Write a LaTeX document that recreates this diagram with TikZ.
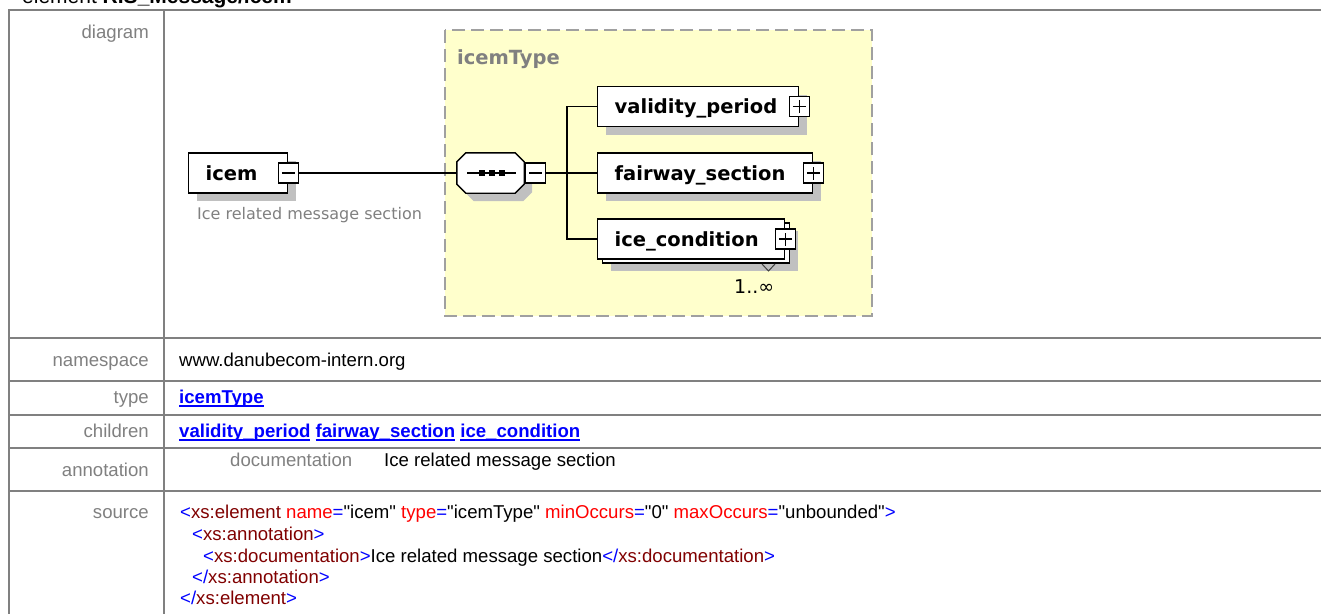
\documentclass[tikz,border=0pt]{standalone}
\usepackage{fontspec}
\setmainfont{Liberation Sans}
\newfontfamily\xsdfont{DejaVu Sans}
\usepackage{tikz}
\definecolor{lgray}{RGB}{128,128,128}
\definecolor{sgray}{RGB}{192,192,192}
\definecolor{yback}{RGB}{255,255,204}
\definecolor{dgray}{RGB}{160,160,160}
\definecolor{xblue}{RGB}{0,0,255}
\definecolor{xname}{RGB}{128,0,0}
\definecolor{xattr}{RGB}{255,0,0}
% underlined link text
\newcommand{\ulink}[1]{\setbox0\hbox{\textcolor{xblue}{\textbf{#1}}}\rlap{\textcolor{xblue}{\rule[-3.5pt]{\wd0}{1.5pt}}}\box0\relax}
% xml source pieces
\newcommand{\xo}[1]{\textcolor{xblue}{<}\textcolor{xname}{#1}}
\newcommand{\xc}[1]{\textcolor{xblue}{</}\textcolor{xname}{#1}}
\newcommand{\xe}{\textcolor{xblue}{>}}
\newcommand{\xa}[2]{\textcolor{xattr}{#1}\textcolor{xblue}{=}\textquotedbl#2\textquotedbl}

\begin{document}
\begin{tikzpicture}[x=1pt,y=-1pt,every node/.style={inner sep=0pt},
  cell/.style={font=\fontsize{18.6}{21.5}\selectfont},
  lbl/.style={cell,text=lgray,anchor=base east},
  val/.style={cell,anchor=base west},
  grid/.style={draw=lgray,line width=2pt},
  shade/.style={preaction={fill=sgray,transform canvas={shift={(8pt,-8pt)}}}},
  box/.style={draw,fill=white,line width=1.4pt,minimum height=40pt,inner xsep=17pt,align=left,
    text height=15pt,text depth=1pt,anchor=west,font=\xsdfont\bfseries\fontsize{19.5}{22}\selectfont},
  elem/.style={box,shade},
  pm/.style={draw,fill=white,line width=1.2pt,minimum size=20pt},
  minus/.style={pm,path picture={\draw[line width=1.2pt] ([xshift=-6.5pt]path picture bounding box.center) -- ([xshift=6.5pt]path picture bounding box.center);}},
  plus/.style={pm,path picture={\draw[line width=1.2pt] ([xshift=-6.5pt]path picture bounding box.center) -- ([xshift=6.5pt]path picture bounding box.center)
      ([yshift=-6.5pt]path picture bounding box.center) -- ([yshift=6.5pt]path picture bounding box.center);}},
  wire/.style={line width=1.3pt}]
  \useasboundingbox (0,0) rectangle (1321,613);
  \clip (0,0) rectangle (1321,613);

  % table
  \draw[grid] (1330,10) -- (9,10) -- (9,620);
  \draw[grid] (164,10) -- (164,620);
  \foreach \y in {338,381,415,448,491}
    \draw[grid] (9,\y) -- (1330,\y);

  \node[anchor=base west,font=\fontsize{21}{24}\selectfont] (title) at (22,3.5) {element \textbf{RIS\_Message/icem}};

  \node[lbl] (ldiag) at (149,38) {diagram};
  \node[lbl] (lns) at (149,366) {namespace};
  \node[lbl] (ltype) at (149,403) {type};
  \node[lbl] (lchild) at (149,437) {children};
  \node[lbl] (lann) at (149,476) {annotation};
  \node[lbl] (lsrc) at (149,518) {source};

  \node[val] (vns) at (179,366) {www.danubecom-intern.org};
  \node[val] (vtype) at (179,403) {\ulink{icemType}};
  \node[val] (vchild) at (179,437) {\ulink{validity\_period} \ulink{fairway\_section} \ulink{ice\_condition}};
  \node[val,text=lgray] (vdoc) at (230,466) {documentation};
  \node[val] (vdoctxt) at (384,466) {Ice related message section};
  \node[val] (src1) at (180,518) {\xo{xs:element} \xa{name}{icem} \xa{type}{icemType} \xa{minOccurs}{0} \xa{maxOccurs}{unbounded}\xe};
  \node[val] (src2) at (192,540) {\xo{xs:annotation}\xe};
  \node[val] (src3) at (203,562) {\xo{xs:documentation}\xe Ice related message section\xc{xs:documentation}\xe};
  \node[val] (src4) at (192,583) {\xc{xs:annotation}\xe};
  \node[val] (src5) at (180,604) {\xc{xs:element}\xe};

  % diagram
  \draw[draw=dgray,fill=yback,line width=2pt,dash pattern=on 13pt off 6pt] (445,30) rectangle (872,316);
  \node[anchor=base west,text=lgray,font=\xsdfont\bfseries\fontsize{19.5}{22}\selectfont] (ctype) at (457,64) {icemType};

  \node[elem,text width=65pt] (icem) at (188,173) {icem};
  \node[minus] (icemm) at (icem.east) {};
  \node[anchor=base west,text=lgray,font=\xsdfont\fontsize{16}{19}\selectfont] (icemdoc) at (197,219) {Ice related message section};

  \node[minimum width=67pt,minimum height=40pt] (seq) at (490.5,173) {};
  \draw[fill=white,line width=1.4pt,shade] ([xshift=9pt]seq.north west) -- ([xshift=-9pt]seq.north east)
    -- ([yshift=-9pt]seq.north east) -- ([yshift=9pt]seq.south east) -- ([xshift=-9pt]seq.south east)
    -- ([xshift=9pt]seq.south west) -- ([yshift=9pt]seq.south west) -- ([yshift=-9pt]seq.north west) -- cycle;
  \draw[wire] ([xshift=-23.5pt]seq.center) -- ([xshift=25.5pt]seq.center);
  \foreach \dx in {-9,1.5,11.5}
    \fill ([xshift=\dx pt]seq.center) +(-3,-3) rectangle +(3,3);
  \node[minus] (seqm) at (535.5,173) {};
  \coordinate (fork) at (567,173);

  \node[elem,text width=167pt] (vp) at (597,106.5) {validity\_period};
  \node[plus] (vpp) at (vp.east) {};
  \node[elem,text width=181pt] (fs) at (597,173) {fairway\_section};
  \node[plus] (fsp) at (fs.east) {};
  \node[elem,text width=153pt] (icb) at (602,243) {};
  \node[box,text width=153pt] (ic) at (597,239) {ice\_condition};
  \node[plus] (icp) at (ic.east) {};
  \draw[draw=black!75,line width=1pt] (762,264) -- (768.5,271) -- (775,264);
  \node[anchor=base west,font=\xsdfont\fontsize{19}{22}\selectfont] (icmult) at (734,293) {1..∞};

  \path[wire] (icemm) edge (seq)
    (seqm) edge (fork);
  \draw[wire] (fork) |- (vp);
  \draw[wire] (fork) -- (fs);
  \draw[wire] (fork) |- (ic);
\end{tikzpicture}
\end{document}
